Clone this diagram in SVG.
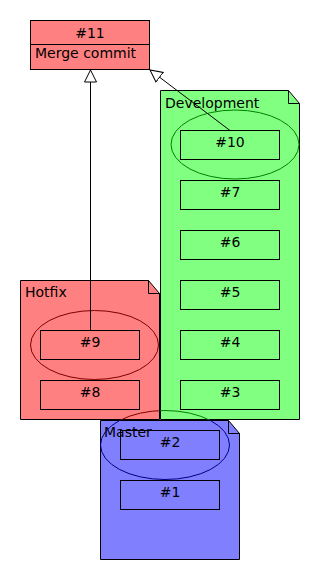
<svg xmlns="http://www.w3.org/2000/svg" width="320" height="580" viewBox="0 0 320 580">
<style>
text{font-family:"DejaVu Sans","Liberation Sans",sans-serif;font-size:14px;fill:#000}
.c{text-anchor:middle}
.box{fill:none;stroke:#000;stroke-width:1}
.pk{stroke:#000;stroke-width:1}
.edge{fill:none;stroke:#000;stroke-width:1}
</style>
<defs>
<marker id="tri" markerUnits="userSpaceOnUse" markerWidth="14" markerHeight="14" refX="12.5" refY="6.5" orient="auto" viewBox="0 0 14 13">
<path d="M0.5,0.5 L12.5,6.5 L0.5,12.5 Z" fill="#fff" stroke="#000" stroke-width="1"/>
</marker>
<clipPath id="cm"><rect x="0" y="420" width="320" height="160"/></clipPath>
<clipPath id="ch"><rect x="0" y="0" width="160" height="420"/></clipPath>
<clipPath id="cd"><rect x="160" y="0" width="160" height="420"/></clipPath>
</defs>
<g id="n11">
<rect x="30.5" y="20.5" width="119" height="49" fill="#ff8080" stroke="#000"/>
<line x1="30.5" y1="44.5" x2="149.5" y2="44.5" stroke="#000"/>
<text class="c" x="90" y="38">#11</text>
<text x="35" y="58">Merge commit</text>
</g>
<g id="development">
<path class="pk" d="M160.5,90.5 H288.5 L299.5,103.5 V419.5 H160.5 Z" fill="#80ff80"/>
<path class="pk" d="M288.5,90.5 V103.5 H299.5" fill="none"/>
<text x="165" y="108">Development</text>
<ellipse cx="235" cy="144.5" rx="64" ry="34.5" fill="none" stroke="#008000"/>
<g id="n10"><rect class="box" x="180.5" y="130.5" width="99" height="29"/><text class="c" x="230" y="147">#10</text></g>
<g id="n7"><rect class="box" x="180.5" y="180.5" width="99" height="29"/><text class="c" x="230" y="197">#7</text></g>
<g id="n6"><rect class="box" x="180.5" y="230.5" width="99" height="29"/><text class="c" x="230" y="247">#6</text></g>
<g id="n5"><rect class="box" x="180.5" y="280.5" width="99" height="29"/><text class="c" x="230" y="297">#5</text></g>
<g id="n4"><rect class="box" x="180.5" y="330.5" width="99" height="29"/><text class="c" x="230" y="347">#4</text></g>
<g id="n3"><rect class="box" x="180.5" y="380.5" width="99" height="29"/><text class="c" x="230" y="397">#3</text></g>
</g>
<g id="hotfix">
<path class="pk" d="M20.5,280.5 H148.5 L159.5,293.5 V419.5 H20.5 Z" fill="#ff8080"/>
<path class="pk" d="M148.5,280.5 V293.5 H159.5" fill="none"/>
<text x="25" y="297">Hotfix</text>
<ellipse cx="94.5" cy="345" rx="64" ry="34.5" fill="none" stroke="#800000"/>
<g id="n9"><rect class="box" x="40.5" y="330.5" width="99" height="29"/><text class="c" x="90" y="347">#9</text></g>
<g id="n8"><rect class="box" x="40.5" y="380.5" width="99" height="29"/><text class="c" x="90" y="397">#8</text></g>
</g>
<g id="master">
<path class="pk" d="M100.5,420.5 H228.5 L239.5,433.5 V559.5 H100.5 Z" fill="#8080ff"/>
<path class="pk" d="M228.5,420.5 V433.5 H239.5" fill="none"/>
<text x="104" y="437">Master</text>
<ellipse cx="165" cy="445" rx="64.5" ry="34.5" fill="none" stroke="#000080" clip-path="url(#cm)"/>
<ellipse cx="165" cy="445" rx="64.5" ry="34.5" fill="none" stroke="#800000" clip-path="url(#ch)"/>
<ellipse cx="165" cy="445" rx="64.5" ry="34.5" fill="none" stroke="#008000" clip-path="url(#cd)"/>
<g id="n2"><rect class="box" x="120.5" y="430.5" width="99" height="29"/><text class="c" x="170" y="447">#2</text></g>
<g id="n1"><rect class="box" x="120.5" y="480.5" width="99" height="29"/><text class="c" x="170" y="497">#1</text></g>
</g>
<g id="connectors">
<line class="edge" x1="90.5" y1="330.5" x2="90.5" y2="70" marker-end="url(#tri)"/>
<line class="edge" x1="230" y1="130.5" x2="150" y2="70" marker-end="url(#tri)"/>
</g>
</svg>
